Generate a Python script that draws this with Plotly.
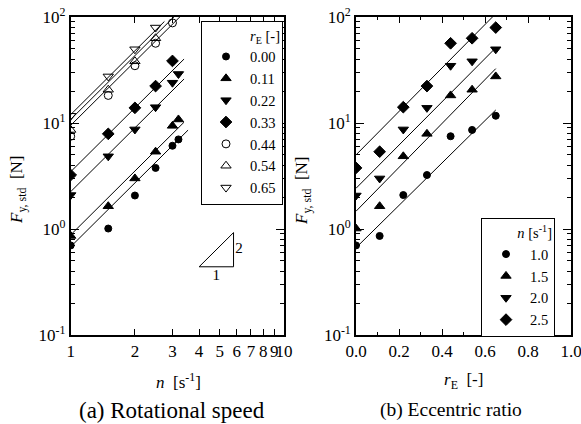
import plotly.graph_objects as go

# ---------------- data ----------------
r_vals = [0.00, 0.11, 0.22, 0.33, 0.44, 0.54, 0.65]
n_main = [1.0, 1.5, 2.0, 2.5]
# F_y,std [N] for each n (over r_vals)
F_n10 = [0.70, 0.86, 2.09, 3.23, 7.5, 8.6, 11.7]
F_n15 = [1.01, 1.64, 4.85, 7.9, 18.2, 20.6, 27.5]
F_n20 = [2.07, 3.00, 8.7, 13.9, 34.7, 38.2, 49.6]
F_n25 = [3.77, 5.36, 14.1, 22.3, 56.5, 63.0, 79.5]
# extra rotational speeds only in panel (a)
n_extra = [3.0, 3.2]
F_n30 = [6.1, 9.4, 24.0, 38.5, 88.0, None, None]
F_n32 = [7.0, 10.8, 29.0, None, None, None, None]

# fitted lines, panel (a): F = C * n^2
C_left = [0.68, 0.88, 2.25, 3.47, 9.5, 10.8, 12.0]
n_line_end = [3.55, 3.4, 3.4, 3.4, 3.4, 3.05, 2.75]
# fitted lines, panel (b): F = A * 10^(k r)
A_right = [0.665, 1.47, 2.42, 5.0]
k_right = [2.0, 2.07, 2.04, 2.05]
r_line_end = 0.65

r_labels = ["0.00", "0.11", "0.22", "0.33", "0.44", "0.54", "0.65"]
n_labels = ["1.0", "1.5", "2.0", "2.5"]
x1_ticks = [1, 2, 3, 4, 5, 6, 7, 8, 9, 10]
x2_ticks = [0.0, 0.2, 0.4, 0.6, 0.8, 1.0]
y_ticks = [0.1, 1, 10, 100]
y_ticktext = ["10<sup>-1</sup>", "10<sup>0</sup>", "10<sup>1</sup>", "10<sup>2</sup>"]

# slope triangle (panel a)
tri_n = [4.0, 5.8]
tri_F0 = 0.44

FONT = "'Liberation Serif', 'DejaVu Serif', serif"
W, H = 581, 424

r_symbols = ["circle", "triangle-up", "triangle-down", "diamond",
             "circle-open", "triangle-up-open", "triangle-down-open"]
r_sizes = [7, 9, 9, 9, 8, 9, 9]
n_symbols = ["circle", "triangle-up", "triangle-down", "diamond"]
n_sizes = [7, 9, 9, 9]

F_by_n = [F_n10, F_n15, F_n20, F_n25]
F_extra = [F_n30, F_n32]

fig = go.Figure()

# ---------- panel (a) ----------
for j, r in enumerate(r_vals):
    xs, ys = [], []
    for i, n in enumerate(n_main):
        xs.append(n); ys.append(F_by_n[i][j])
    for i, n in enumerate(n_extra):
        if F_extra[i][j] is not None:
            xs.append(n); ys.append(F_extra[i][j])
    nl = [1.0, n_line_end[j]]
    fig.add_trace(go.Scatter(x=nl, y=[C_left[j] * v ** 2 for v in nl], mode="lines",
                             line=dict(color="black", width=1), showlegend=False,
                             xaxis="x", yaxis="y", hoverinfo="skip"))
    fig.add_trace(go.Scatter(x=xs, y=ys, mode="markers", name=r_labels[j],
                             marker=dict(symbol=r_symbols[j], size=r_sizes[j], color="black",
                                         line=dict(color="black", width=1)),
                             xaxis="x", yaxis="y", legend="legend"))

# slope triangle
tri_F1 = tri_F0 * (tri_n[1] / tri_n[0]) ** 2
fig.add_trace(go.Scatter(x=[tri_n[0], tri_n[1], tri_n[1], tri_n[0]],
                         y=[tri_F0, tri_F0, tri_F1, tri_F0], mode="lines",
                         line=dict(color="black", width=1), showlegend=False,
                         xaxis="x", yaxis="y", hoverinfo="skip"))
fig.add_trace(go.Scatter(x=[(tri_n[0] * tri_n[1]) ** 0.5, tri_n[1] * 1.02],
                         y=[tri_F0 * 0.82, (tri_F0 * tri_F1) ** 0.5],
                         mode="text", text=["1", "2"],
                         textposition=["middle center", "middle right"],
                         textfont=dict(family=FONT, size=15, color="black"),
                         showlegend=False, xaxis="x", yaxis="y", hoverinfo="skip"))

# ---------- panel (b) ----------
for i, n in enumerate(n_main):
    rl = [0.0, r_line_end]
    fig.add_trace(go.Scatter(x=rl, y=[A_right[i] * 10 ** (k_right[i] * v) for v in rl],
                             mode="lines", line=dict(color="black", width=1),
                             showlegend=False, xaxis="x2", yaxis="y2", hoverinfo="skip"))
    fig.add_trace(go.Scatter(x=r_vals, y=F_by_n[i], mode="markers", name=n_labels[i],
                             marker=dict(symbol=n_symbols[i], size=n_sizes[i], color="black",
                                         line=dict(color="black", width=1)),
                             xaxis="x2", yaxis="y2", legend="legend2"))

# ---------- layout ----------
px = lambda v: v / W
py = lambda v: 1 - v / H

axis_common = dict(showline=True, linecolor="black", linewidth=1.6, mirror="allticks",
                   ticks="inside", tickcolor="black", showgrid=False, zeroline=False,
                   tickangle=0, automargin=False, ticklabeloverflow="allow",
                   tickfont=dict(family=FONT, size=17, color="black"))

y_minor = [m * d for d in (0.1, 1, 10) for m in range(2, 10)]

yaxis_common = dict(axis_common, type="log", range=[-1, 2], tickvals=y_ticks,
                    ticktext=y_ticktext, ticklen=8, tickwidth=1.2,
                    minor=dict(tickvals=y_minor, ticks="inside", ticklen=4,
                               tickcolor="black", tickwidth=1),
                    domain=[py(335), py(17)])

LEG_FS = 14.5
fig.update_layout(
    template="none",
    width=W, height=H, margin=dict(l=0, r=0, t=0, b=0, autoexpand=False),
    paper_bgcolor="white", plot_bgcolor="white",
    font=dict(family=FONT, color="black", size=16),
    xaxis=dict(axis_common, type="log", range=[0, 1], tickvals=x1_ticks,
               ticktext=[str(t) for t in x1_ticks], ticklen=6, tickwidth=1.2,
               domain=[px(70.7), px(284)], anchor="y"),
    yaxis=dict(yaxis_common, anchor="x"),
    xaxis2=dict(axis_common, range=[0, 1], tickvals=x2_ticks,
                ticktext=["%.1f" % t for t in x2_ticks], ticklen=6, tickwidth=1.2,
                minor=dict(tickvals=[0.1, 0.3, 0.5, 0.7, 0.9], ticks="inside", ticklen=3,
                           tickcolor="black", tickwidth=1),
                domain=[px(356), px(571)], anchor="y2"),
    yaxis2=dict(yaxis_common, anchor="x2"),
    legend=dict(x=px(201), y=py(20.7), xanchor="left", yanchor="top",
                bgcolor="white", bordercolor="black", borderwidth=1,
                font=dict(family=FONT, size=LEG_FS, color="black"),
                itemwidth=38, tracegroupgap=0,
                title=dict(text="<i>r</i><sub>E</sub> [-]", side="top right",
                           font=dict(family=FONT, size=LEG_FS, color="black"))),
    legend2=dict(x=px(481), y=py(218.3), xanchor="left", yanchor="top",
                 bgcolor="white", bordercolor="black", borderwidth=1,
                 font=dict(family=FONT, size=LEG_FS, color="black"),
                 itemwidth=38, tracegroupgap=0,
                 title=dict(text="<i>n</i> [s<sup>-1</sup>]", side="top right",
                            font=dict(family=FONT, size=LEG_FS, color="black"))),
    showlegend=True,
)

ann_font = dict(family=FONT, size=17, color="black")
annotations = [
    dict(x=px(18), y=py(190), text="<i>F</i><sub>y, std</sub>  [N]", textangle=-90),
    dict(x=px(303), y=py(190), text="<i>F</i><sub>y, std</sub>  [N]", textangle=-90),
    dict(x=px(178), y=py(381), text="<i>n</i>  [s<sup>-1</sup>]"),
    dict(x=px(463), y=py(381), text="<i>r</i><sub>E</sub>  [-]"),
    dict(x=px(172), y=py(410), text="(a) Rotational speed", font=dict(family=FONT, size=23, color="black")),
    dict(x=px(451), y=py(410), text="(b) Eccentric ratio", font=dict(family=FONT, size=19.5, color="black")),
]
for a in annotations:
    a.setdefault("font", ann_font)
    a.update(xref="paper", yref="paper", showarrow=False, xanchor="center", yanchor="middle")
fig.update_layout(annotations=annotations)

# the page keeps no body margin so the figure sits at the window's top-left corner
fig.write_html("out.html", config={"displayModeBar": False},
               post_script="document.body.style.margin='0px';")
